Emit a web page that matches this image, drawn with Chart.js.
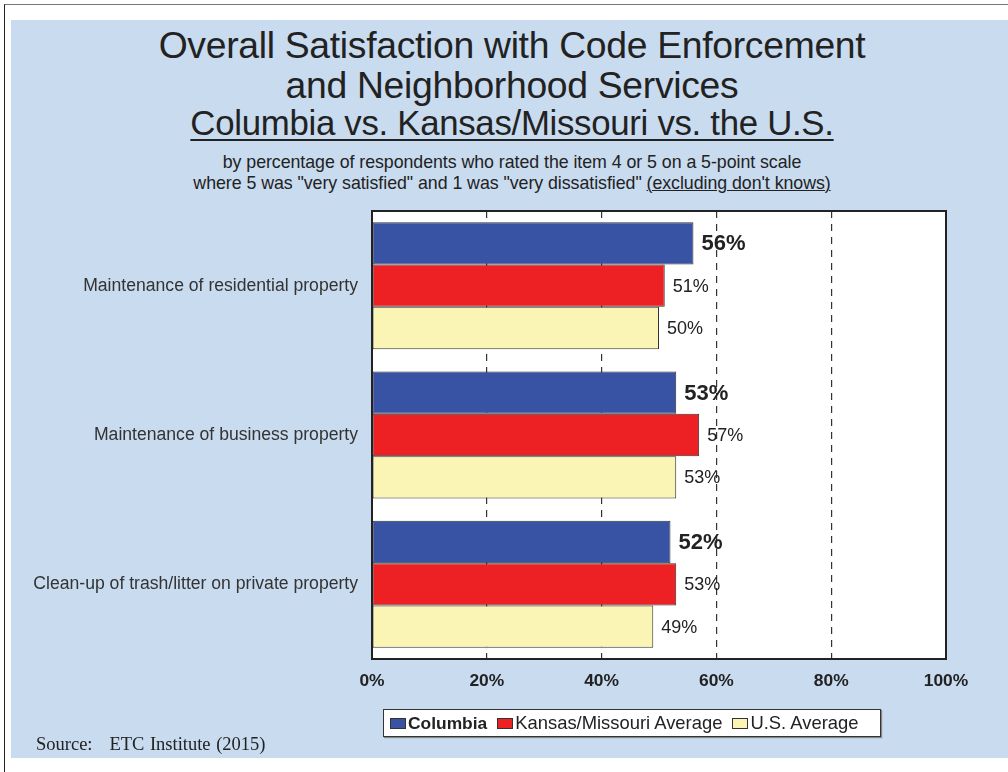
<!DOCTYPE html>
<html>
<head>
<meta charset="utf-8">
<script src="https://cdn.jsdelivr.net/npm/chart.js@4.4.0/dist/chart.umd.min.js"></script>
<style>
  body { margin: 0; background: #fff; width: 1008px; height: 772px; position: relative; overflow: hidden; font-family: "Liberation Sans", Arial, sans-serif; color: #222; }
  #frame { position: absolute; left: 4px; top: 4px; width: 1004px; height: 768px; border-top: 1px solid #777; border-left: 1px solid #222; }
  #panel { position: absolute; left: 11px; top: 20px; width: 997px; height: 738px; background: #c9dbef; }
  canvas { position: absolute; left: 0; top: 0; }
  .t { position: absolute; left: 0; width: 1024px; text-align: center; white-space: nowrap; line-height: 1; }
  #t1 { top: 27px; font-size: 37.3px; letter-spacing: -0.3px; }
  #t2 { top: 67px; font-size: 37.3px; letter-spacing: -0.3px; }
  #t3 { top: 106px; font-size: 34.8px; letter-spacing: -0.3px; text-decoration: underline; text-decoration-thickness: 2px; text-underline-offset: 4px; }
  #s1 { top: 154px; font-size: 17.8px; letter-spacing: -0.05px; }
  #s2 { top: 175px; font-size: 17.8px; letter-spacing: -0.05px; }
  #s2 u { text-decoration-thickness: 1px; }
  #legend { position: absolute; left: 383px; top: 709px; width: 496px; height: 26px; background: #fff; border: 1px solid #333; box-shadow: 1px 1px 1px #888; display: flex; align-items: center; font-size: 18.4px; white-space: nowrap; }
  .item { display: flex; align-items: center; margin-left: 10px; }
  .item:first-child { margin-left: 6px; }
  .sw { width: 16px; height: 11px; border: 1px solid #333; margin-right: 2px; box-sizing: border-box; }
  #source { position: absolute; left: 36px; top: 734px; font-family: "Liberation Serif", "Times New Roman", serif; font-size: 18.5px; word-spacing: 1px; }
</style>
</head>
<body>
<div id="frame"></div>
<div id="panel"></div>
<div class="t" id="t1">Overall Satisfaction with Code Enforcement</div>
<div class="t" id="t2">and Neighborhood Services</div>
<div class="t" id="t3">Columbia vs. Kansas/Missouri vs. the U.S.</div>
<div class="t" id="s1">by percentage of respondents who rated the item 4 or 5 on a 5-point scale</div>
<div class="t" id="s2">where 5 was "very satisfied" and 1 was "very dissatisfied" <u>(excluding don't knows)</u></div>
<canvas id="barChart" width="1008" height="772"></canvas>
<div id="legend"></div>
<div id="source">Source:&nbsp;&nbsp; ETC Institute (2015)</div>
<script>
// survey results, percent rating 4 or 5
const categories = [
    'Maintenance of residential property',
    'Maintenance of business property',
    'Clean-up of trash/litter on private property'
];
const seriesNames = ['Columbia', 'Kansas/Missouri Average', 'U.S. Average'];
const columbiaValues = [56, 53, 52];
const kansasMissouriValues = [51, 57, 53];
const usValues = [50, 53, 49];
const seriesColors = ['#3853a4', '#ed2024', '#faf5b4'];
const xTicks = [0, 20, 40, 60, 80, 100];

// white plot area + black frame around it
const plotFrame = {
    id: 'plotFrame',
    beforeDraw(chart) {
        const a = chart.chartArea;
        const c = chart.ctx;
        c.save();
        c.fillStyle = '#fff';
        c.fillRect(a.left, a.top, a.right - a.left, a.bottom - a.top);
        c.restore();
    },
    afterDraw(chart) {
        const a = chart.chartArea;
        const c = chart.ctx;
        c.save();
        c.strokeStyle = '#222';
        c.lineWidth = 2;
        c.strokeRect(a.left, a.top, a.right - a.left, a.bottom - a.top);
        c.restore();
    }
};

// value labels to the right of each bar (Columbia bold and bigger)
const valueLabels = {
    id: 'valueLabels',
    afterDatasetsDraw(chart) {
        const c = chart.ctx;
        c.save();
        c.fillStyle = '#222';
        c.textBaseline = 'middle';
        c.textAlign = 'left';
        chart.data.datasets.forEach((ds, i) => {
            const meta = chart.getDatasetMeta(i);
            c.font = i === 0 ? 'bold 22px "Liberation Sans", Arial' : '18px "Liberation Sans", Arial';
            meta.data.forEach((bar, j) => {
                c.fillText(ds.data[j] + '%', bar.x + 8, bar.y + 1);
            });
        });
        c.restore();
    }
};

const ctx = document.getElementById('barChart').getContext('2d');
const barChart = new Chart(ctx, {
    type: 'bar',
    data: {
        labels: categories,
        datasets: [
            { label: seriesNames[0], data: columbiaValues, backgroundColor: seriesColors[0] },
            { label: seriesNames[1], data: kansasMissouriValues, backgroundColor: seriesColors[1] },
            { label: seriesNames[2], data: usValues, backgroundColor: seriesColors[2] }
        ].map(d => Object.assign(d, {
            borderColor: '#333',
            borderWidth: 1,
            borderSkipped: false,
            categoryPercentage: 0.85,
            barPercentage: 1
        }))
    },
    options: {
        indexAxis: 'y',
        responsive: false,
        animation: false,
        layout: { padding: { left: 0, right: 62, top: 211, bottom: 73 } },
        plugins: {
            legend: { display: false },
            tooltip: { enabled: false }
        },
        scales: {
            x: {
                min: 0,
                max: 100,
                afterBuildTicks: scale => { scale.ticks = xTicks.map(v => ({ value: v })); },
                afterFit: scale => { scale.height = 40; },
                border: { display: false, dash: [7, 6] },
                grid: {
                    drawTicks: false,
                    color: c => (c.tick && (c.tick.value === 0 || c.tick.value === 100)) ? 'rgba(0,0,0,0)' : '#333',
                    lineWidth: 1.2
                },
                ticks: {
                    padding: 12,
                    color: '#222',
                    font: { family: '"Liberation Sans", Arial', size: 17.4, weight: 'bold' },
                    callback: v => v + '%'
                }
            },
            y: {
                afterFit: scale => { scale.width = 372; },
                border: { display: false },
                grid: { display: false },
                ticks: {
                    padding: 6,
                    color: '#333',
                    font: { family: '"Liberation Sans", Arial', size: 17.6 }
                }
            }
        }
    },
    plugins: [plotFrame, valueLabels]
});

// legend built from the dataset names
const legendBox = document.getElementById('legend');
seriesNames.forEach((name, i) => {
    const item = document.createElement('div');
    item.className = 'item';
    const sw = document.createElement('div');
    sw.className = 'sw';
    sw.style.background = seriesColors[i];
    const label = document.createElement('span');
    label.textContent = name;
    if (i === 0) {
        label.style.fontWeight = 'bold';
        label.style.fontSize = '17.4px';
    }
    item.appendChild(sw);
    item.appendChild(label);
    legendBox.appendChild(item);
});
</script>
</body>
</html>
